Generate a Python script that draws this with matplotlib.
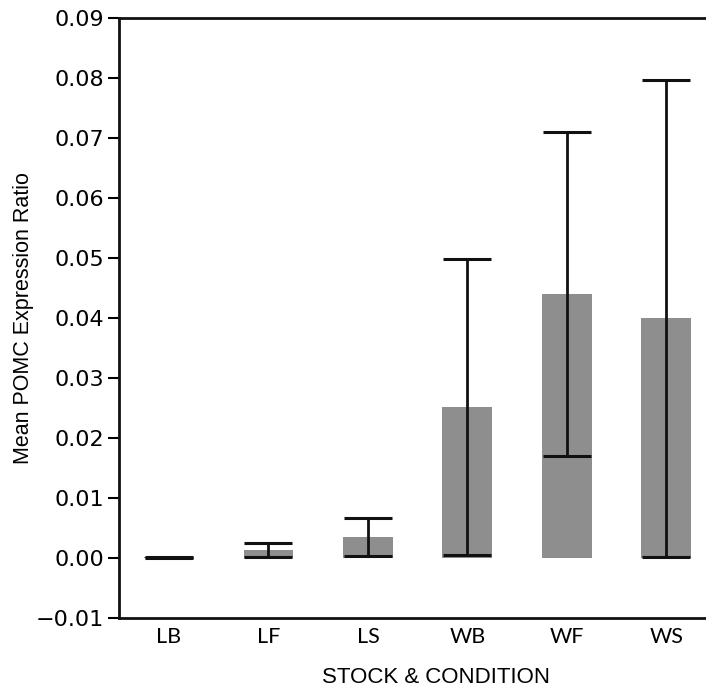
import matplotlib
matplotlib.use("Agg")
import matplotlib.pyplot as plt
import numpy as np

# Mean POMC expression ratio per stock & condition, with error bars
categories = ["LB", "LF", "LS", "WB", "WF", "WS"]
means = [0.0002, 0.0014, 0.0036, 0.0252, 0.0440, 0.0400]
errors = [0.0001, 0.0011, 0.0032, 0.0247, 0.0270, 0.0397]
y_ticks = [-0.01, 0.00, 0.01, 0.02, 0.03, 0.04, 0.05, 0.06, 0.07, 0.08, 0.09]

fig = plt.figure(figsize=(7.06, 6.92), dpi=100)
ax = fig.add_axes([0.169, 0.1064, 0.845, 0.8676])

x = np.arange(len(categories))
ax.bar(x, means, width=0.5, color="#8e8e8e", edgecolor="none", zorder=2)
ax.errorbar(x, means, yerr=errors, fmt="none", ecolor="#111111",
            elinewidth=2, capsize=17, capthick=2.2, zorder=3)

ax.set_xlim(-0.5, len(categories) - 0.5)
ax.set_ylim(-0.01, 0.09)
ax.set_yticks(y_ticks)
ax.set_yticklabels([f"{t:.2f}".replace("-", "\u2212") for t in y_ticks],
                   fontsize=16, family="DejaVu Sans")
ax.set_xticks(x)
ax.set_xticklabels(categories, fontsize=15.5, family="Lato")
ax.tick_params(axis="x", length=0, pad=6)
ax.tick_params(axis="y", length=8, width=1.5, direction="out", pad=3)

for side in ("left", "bottom", "top", "right"):
    ax.spines[side].set_linewidth(2)
    ax.spines[side].set_color("#111111")

ax.set_ylabel("Mean POMC Expression Ratio", fontsize=15.5,
              family="Liberation Sans")
ax.yaxis.set_label_coords(-0.143, 0.5)
ax.set_xlabel("STOCK & CONDITION", fontsize=16,
              family="Liberation Sans")
ax.xaxis.set_label_coords(0.531, -0.081)

fig.savefig("out.png", dpi=100)
